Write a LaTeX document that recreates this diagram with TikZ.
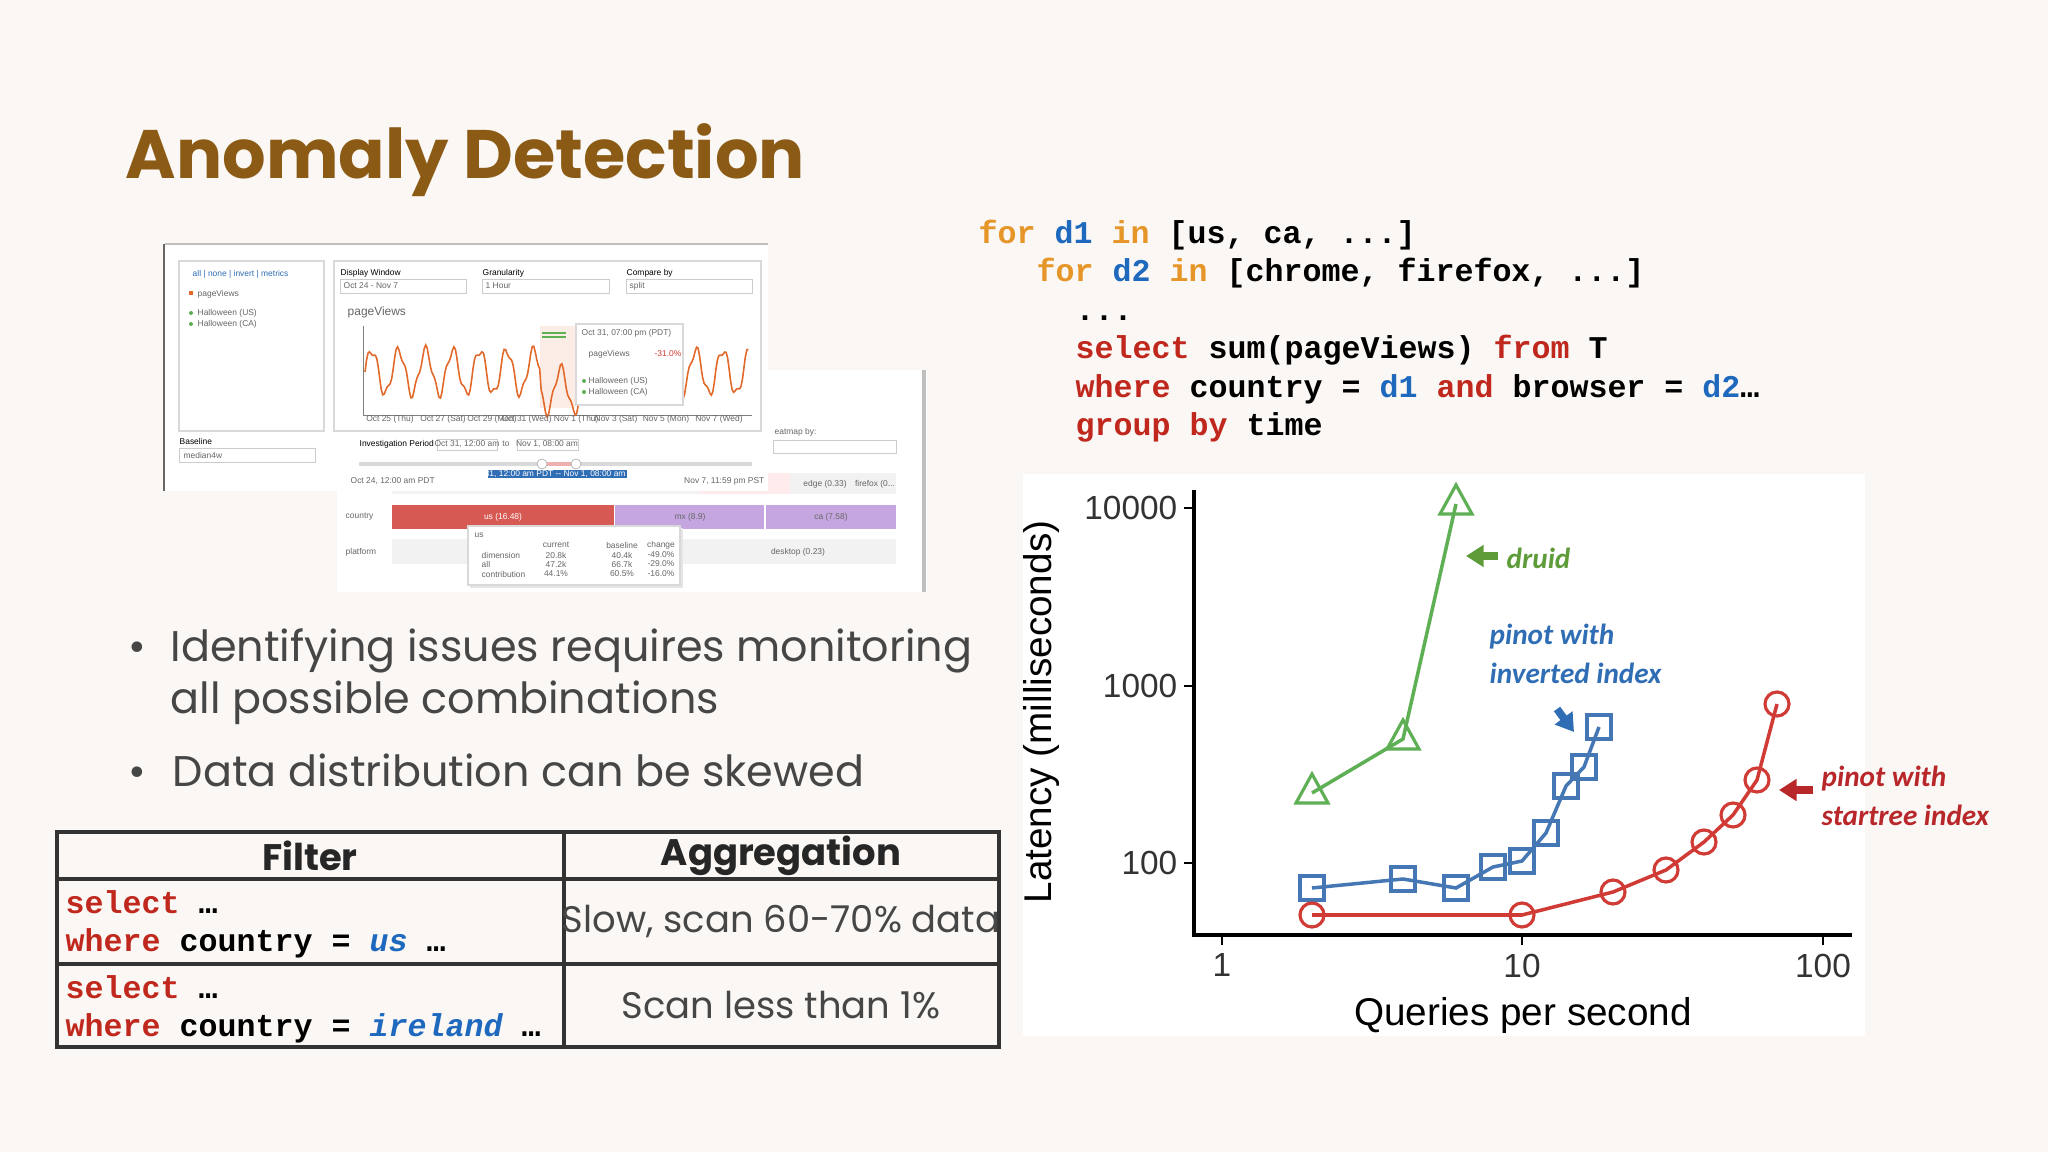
\documentclass[tikz,border=0pt]{standalone}
\usepackage{fontspec}
\usetikzlibrary{arrows.meta}
\setmainfont{Poppins}
\newfontfamily\pop{Poppins}
\newfontfamily\mono{Liberation Mono}
\newfontfamily\hel{Liberation Sans}
\newfontfamily\carl{Carlito}
\definecolor{bg}{RGB}{250,247,244}
\definecolor{titlec}{RGB}{139,90,20}
\definecolor{kwo}{RGB}{230,150,40}
\definecolor{kwb}{RGB}{30,105,190}
\definecolor{kwr}{RGB}{192,40,30}
\definecolor{txt}{RGB}{70,70,70}
\definecolor{gr}{RGB}{95,175,85}
\definecolor{bl}{RGB}{68,119,179}
\definecolor{rd}{RGB}{208,60,53}
\definecolor{grl}{RGB}{94,156,58}
\definecolor{bll}{RGB}{47,109,181}
\definecolor{rdl}{RGB}{184,39,42}
\definecolor{orw}{RGB}{226,105,42}
\begin{document}
\begin{tikzpicture}[x=0.01cm,y=-0.01cm,
  code/.style={anchor=base west,inner sep=0,font=\mono\bfseries\fontsize{9}{10}\selectfont},
  bul/.style={anchor=base west,inner sep=0,text=txt,font=\pop\fontsize{12.2}{14}\selectfont},
  tiny/.style={inner sep=0,font=\hel\fontsize{2.4}{3}\selectfont,text=black!60},
  tick/.style={inner sep=0,font=\hel\fontsize{9.5}{11}\selectfont,text=black!80},
  lab/.style={anchor=west,inner sep=0,font=\carl\bfseries\itshape\fontsize{8.3}{10}\selectfont},
  panel/.style={fill=white,draw=black!15,line width=0.3pt},
  dd/.style={fill=white,draw=black!20,line width=0.2pt}]
\useasboundingbox (0,0) rectangle (2048,1152);
\fill[bg] (0,0) rectangle (2048,1152);
% title
\node[anchor=base west,inner sep=0,text=titlec,font=\pop\bfseries\fontsize{19.5}{22}\selectfont] (title) at (125,179) {Anomaly Detection};
% code
\node[code] (c1) at (978,244) {\textcolor{kwo}{for} \textcolor{kwb}{d1} \textcolor{kwo}{in} [us, ca, ...]};
\node[code] (c2) at (1036,282) {\textcolor{kwo}{for} \textcolor{kwb}{d2} \textcolor{kwo}{in} [chrome, firefox, ...]};
\node[code] (c3) at (1075,321) {...};
\node[code] (c4) at (1075,359) {\textcolor{kwr}{select} sum(pageViews) \textcolor{kwr}{from} T};
\node[code] (c5) at (1075,398) {\textcolor{kwr}{where} country = \textcolor{kwb}{d1} \textcolor{kwr}{and} browser = \textcolor{kwb}{d2}\ldots};
\node[code] (c6) at (1075,436) {\textcolor{kwr}{group by} time};
% bullets
\node[bul] (b0) at (128,662) {\textbullet};
\node[bul] (b1) at (170,662) {Identifying issues requires monitoring};
\node[bul] (b2) at (170,713) {all possible combinations};
\node[bul] (b3) at (128,786) {\textbullet};
\node[bul] (b4) at (172,786) {Data distribution can be skewed};
% table
\draw[black!80,line width=0.9pt] (57,832) rectangle (999,1047);
\draw[black!80,line width=0.9pt] (57,879) -- (999,879) (57,964) -- (999,964) (564,832) -- (564,1047);
\node[font=\pop\bfseries\fontsize{10.5}{12}\selectfont,text=black!85,inner sep=0] (h1) at (310,856) {Filter};
\node[font=\pop\bfseries\fontsize{10.5}{12}\selectfont,text=black!85,inner sep=0] (h2) at (781,856) {Aggregation};
\node[font=\pop\fontsize{10.5}{12}\selectfont,text=txt,inner sep=0] (a1) at (781,921) {Slow, scan 60-70\% data};
\node[font=\pop\fontsize{10.5}{12}\selectfont,text=txt,inner sep=0] (a2) at (781,1005) {Scan less than 1\%};
\node[code] (f1) at (65,913) {\textcolor{kwr}{select} \ldots};
\node[code] (f2) at (65,951) {\textcolor{kwr}{where} country = \textcolor{kwb}{\itshape us} \ldots};
\node[code] (f3) at (65,998) {\textcolor{kwr}{select} \ldots};
\node[code] (f4) at (65,1036) {\textcolor{kwr}{where} country = \textcolor{kwb}{\itshape ireland} \ldots};
% screenshot: back panel
\fill[white] (337,370) rectangle (927,592);
\draw[black!25,line width=1.2pt] (924,370) -- (924,592);
\node[tiny,anchor=west] (hm) at (774,432) {eatmap by:};
\draw[dd] (773,440) rectangle (896,453);
\fill[black!5] (392,473) rectangle (896,494);
\fill[red!8] (700,473) rectangle (790,494);
\node[tiny] (ed) at (825,484) {edge (0.33)};
\node[tiny] (ff) at (875,484) {firefox (0...};
\node[tiny,anchor=west] (cty) at (345,517) {country};
\fill[rd!85] (392,505) rectangle (614,529);
\fill[blue!30!violet!35] (615,505) rectangle (764,529);
\fill[blue!30!violet!35] (766,505) rectangle (896,529);
\node[tiny,text=white] (us) at (503,517) {us (16.48)};
\node[tiny] (mx) at (690,517) {mx (8.9)};
\node[tiny] (ca) at (831,517) {ca (7.58)};
\node[tiny,anchor=west] (pf) at (345,552) {platform};
\fill[black!5] (392,539) rectangle (896,564);
\node[tiny] (dk) at (798,552) {desktop (0.23)};
% tooltip
\fill[black!10] (470,528) rectangle (683,588);
\draw[panel] (468,526) rectangle (680,585);
\node[tiny,anchor=west] (tu) at (474,535) {us};
\node[tiny] (t1) at (556,545) {current};
\node[tiny] (t2) at (622,545) {baseline};
\node[tiny] (t3) at (661,545) {change};
\node[tiny,anchor=west] (t4) at (481,555) {dimension};
\node[tiny,anchor=west] (t5) at (481,564) {all};
\node[tiny,anchor=west] (t6) at (481,574) {contribution};
\node[tiny] (v1) at (556,555) {20.8k}; \node[tiny] (v2) at (622,555) {40.4k}; \node[tiny] (v3) at (661,555) {-49.0\%};
\node[tiny] (v4) at (556,564) {47.2k}; \node[tiny] (v5) at (622,564) {66.7k}; \node[tiny] (v6) at (661,564) {-29.0\%};
\node[tiny] (v7) at (556,574) {44.1\%}; \node[tiny] (v8) at (622,574) {60.5\%}; \node[tiny] (v9) at (661,574) {-16.0\%};
% front panel
\fill[white] (163,244) rectangle (768,491);
\draw[black!25,line width=0.3pt] (165,244) -- (768,244);
\draw[black!60,line width=0.5pt] (164,244) -- (164,491);
\draw[panel] (179,261) rectangle (324,431);
\node[tiny,anchor=west,text=bll] (sl) at (192,274) {all \textbar{} none \textbar{} invert \textbar{} metrics};
\fill[orw] (189,291) rectangle (193,295);
\node[tiny,anchor=west] (pv0) at (197,294) {pageViews};
\fill[gr] (191,313) circle (0.02cm); \fill[gr] (191,324) circle (0.02cm);
\node[tiny,anchor=west] (hu) at (197,313) {Halloween (US)};
\node[tiny,anchor=west] (hc) at (197,324) {Halloween (CA)};
\draw[panel] (334,261) rectangle (761,431);
\node[tiny,anchor=west,text=black] (dw) at (340,273) {Display Window};
\draw[dd] (340,279) rectangle (466,293); \node[tiny,anchor=west] (dwv) at (343,286) {Oct 24 - Nov 7};
\node[tiny,anchor=west,text=black] (gn) at (482,273) {Granularity};
\draw[dd] (482,279) rectangle (609,293); \node[tiny,anchor=west] (gnv) at (485,286) {1 Hour};
\node[tiny,anchor=west,text=black] (cb) at (626,273) {Compare by};
\draw[dd] (626,279) rectangle (752,293); \node[tiny,anchor=west] (cbv) at (629,286) {split};
\node[tiny,anchor=west,font=\hel\fontsize{3.4}{4}\selectfont] (pv) at (347,312) {pageViews};
\fill[orw!12] (540,326) rectangle (575,408);
\draw[black!50,line width=0.2pt] (363,326) -- (363,415) -- (752,415);
\draw[orw,line width=0.45pt] plot[domain=0:14.2,samples=260] ({365+27*\x},{372-22*sin(\x*360)-5*sin(\x*1000)+ (\x>6.5)*(\x<7.9)*18});
\draw[gr,line width=0.5pt] (542,333) -- (566,333) (542,337) -- (566,337);
\draw[panel] (576,324) rectangle (683,405);
\node[tiny,anchor=west] (tt) at (581,333) {Oct 31, 07:00 pm (PDT)};
\node[tiny,anchor=west] (tt2) at (588,354) {pageViews};
\node[tiny,text=rd] (tt3) at (668,354) {-31.0\%};
\node[tiny,anchor=west] (tt4) at (588,381) {Halloween (US)};
\node[tiny,anchor=west] (tt5) at (588,392) {Halloween (CA)};
\fill[gr] (584,381) circle (0.02cm); \fill[gr] (584,392) circle (0.02cm);
\node[tiny] (xl1) at (390,419) {Oct 25 (Thu)};
\node[tiny] (xl2) at (443,419) {Oct 27 (Sat)};
\node[tiny] (xl3) at (492,419) {Oct 29 (Mon)};
\node[tiny] (xl4) at (550,419) {Oct 31 (Wed) Nov 1 (Thu)};
\node[tiny] (xl5) at (616,419) {Nov 3 (Sat)};
\node[tiny] (xl6) at (666,419) {Nov 5 (Mon)};
\node[tiny] (xl7) at (719,419) {Nov 7 (Wed)};
\node[tiny,anchor=west,text=black] (bs) at (179,441) {Baseline};
\draw[dd] (179,448) rectangle (315,462); \node[tiny,anchor=west] (bsv) at (183,455) {median4w};
\node[tiny,anchor=west,text=black] (ip) at (359,444) {Investigation Period};
\draw[dd] (437,439) rectangle (497,450); \node[tiny] (ip1) at (467,444) {Oct 31, 12:00 am};
\node[tiny] (ipto) at (506,444) {to};
\draw[dd] (517,439) rectangle (578,450); \node[tiny] (ip2) at (547,444) {Nov 1, 08:00 am};
\draw[black!15,line width=1.2pt] (359,464) -- (752,464);
\draw[rd!40,line width=1.2pt] (542,464) -- (576,464);
\fill[white,draw=black!30,line width=0.2pt] (542,464) circle (0.05cm) (576,464) circle (0.05cm);
\fill[bll] (488,470) rectangle (627,478);
\node[tiny,text=white] (bl1) at (557,474) {Oct 31, 12:00 am PDT -- Nov 1, 08:00 am PDT};
\node[tiny,anchor=west] (st) at (350,481) {Oct 24, 12:00 am PDT};
\node[tiny,anchor=east] (en) at (765,481) {Nov 7, 11:59 pm PST};
% chart
\fill[white] (1023,474) rectangle (1865,1036);
\draw[black,line width=1.1pt] (1194,490) -- (1194,935) -- (1852,935);
\foreach \yy/\tx in {508/10000,686/1000,863/100}{
  \draw[black,line width=0.8pt] (1184,\yy) -- (1194,\yy);
  \node[tick,anchor=east] (y\tx) at (1178,\yy) {\tx};}
\foreach \xx/\tx in {1222/1,1522/10,1823/100}{
  \draw[black,line width=0.8pt] (\xx,935) -- (\xx,945);
  \node[tick,anchor=north] (x\tx) at (\xx,953) {\tx};}
\node[inner sep=0,font=\hel\fontsize{11}{13}\selectfont] (xt) at (1523,1015) {Queries per second};
\node[inner sep=0,rotate=90,font=\hel\fontsize{11}{13}\selectfont] (yt) at (1041,712) {Latency (milliseconds)};
% series
\draw[gr,line width=1pt] (1312,793) -- (1403,739) -- (1456,504);
\foreach \p in {(1312,793),(1403,739),(1456,504)}
  \draw[gr,line width=0.9pt] \p ++(0,-19) -- ++(16,29) -- ++(-32,0) -- cycle;
\draw[bl,line width=1pt] (1312,888) -- (1403,879) -- (1456,888) -- (1493,867) -- (1522,861) -- (1546,833) -- (1566,786) -- (1584,767) -- (1599,727);
\foreach \p in {(1312,888),(1403,879),(1456,888),(1493,867),(1522,861),(1546,833),(1566,786),(1584,767),(1599,727)}
  \draw[bl,line width=0.9pt] \p ++(-12,-12) rectangle ++(24,24);
\draw[rd,line width=1pt] (1312,915) -- (1522,915) -- (1613,892) -- (1666,870) -- (1704,842) -- (1733,815) -- (1757,780) -- (1777,704);
\foreach \p in {(1312,915),(1522,915),(1613,892),(1666,870),(1704,842),(1733,815),(1757,780),(1777,704)}
  \draw[rd,line width=0.9pt] \p circle[radius=0.12cm];
% labels
\coordinate (ga) at (1498,556); \coordinate (gb) at (1466,556);
\draw[grl,line width=2.2pt,-{Triangle[length=5pt,width=6pt]}] (ga) -- (gb);
\node[lab,text=grl] (druid) at (1506,558) {druid};
\node[lab,text=bll] (pl1) at (1489,637) {pinot with};
\node[lab,text=bll] (pl2) at (1489,673) {inverted index};
\coordinate (ba) at (1557,709); \coordinate (bb) at (1574,732);
\draw[bll,line width=2.2pt,-{Triangle[length=5pt,width=6pt]}] (ba) -- (bb);
\node[lab,text=rdl] (rl1) at (1821,779) {pinot with};
\node[lab,text=rdl] (rl2) at (1821,815) {startree index};
\coordinate (ra) at (1813,790); \coordinate (rb) at (1779,790);
\draw[rdl,line width=2.2pt,-{Triangle[length=5pt,width=6pt]}] (ra) -- (rb);
\end{tikzpicture}
\end{document}
